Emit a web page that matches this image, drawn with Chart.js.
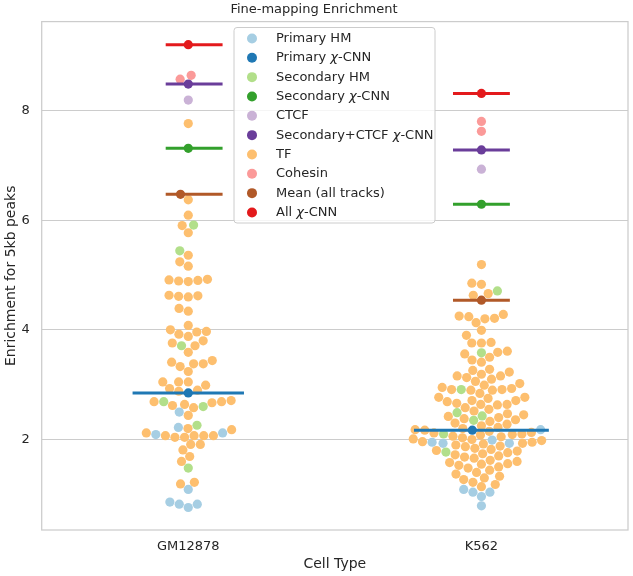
<!DOCTYPE html>
<html>
<head>
<meta charset="utf-8">
<script src="https://cdn.jsdelivr.net/npm/chart.js@4.4.1/dist/chart.umd.min.js"></script>
<style>
    html, body { margin: 0; padding: 0; background: #ffffff; }
</style>
</head>
<body>
<canvas id="chart" width="633" height="576"></canvas>
<script>
// categories and ticks
var cellTypes = ['GM12878', 'K562'];
var yTicks = [2, 4, 6, 8];

// legend entries (track groups)
var seriesNames = ['Primary HM', 'Primary χ-CNN', 'Secondary HM', 'Secondary χ-CNN', 'CTCF',
    'Secondary+CTCF χ-CNN', 'TF', 'Cohesin', 'Mean (all tracks)', 'All χ-CNN'];

// values per track group: [GM12878, K562]
var primaryHM = [[2.50, 2.22, 2.12, 2.09, 1.09, 0.86, 0.82, 0.82, 0.76],
    [2.18, 1.99, 1.95, 1.93, 1.93, 1.09, 1.04, 1.04, 0.96, 0.79]];
var primaryCNN = [[2.85], [2.17]];
var secondaryHM = [[5.91, 5.44, 3.71, 2.69, 2.60, 2.26, 1.48],
    [4.71, 3.58, 2.91, 2.49, 2.43, 2.35, 2.10, 1.77]];
var secondaryCNN = [[7.31], [6.29]];
var ctcf = [[8.19], [6.93]];
var secondaryCtcfCNN = [[8.48], [7.28]];
var tf = [
    [7.76, 6.37, 6.09, 5.90, 5.77, 5.36, 5.24, 5.16, 4.92, 4.90, 4.88, 4.89, 4.91, 4.63, 4.61, 4.62, 4.60,
        4.39, 4.34, 4.08, 4.00, 3.97, 3.96, 3.92, 3.88, 3.80, 3.76, 3.71, 3.59, 3.44, 3.41, 3.38, 3.38, 3.33,
        3.24, 3.05, 3.05, 3.05, 2.99, 2.93, 2.90, 2.88, 2.71, 2.69, 2.67, 2.62, 2.58, 2.64, 2.69, 2.44, 2.20,
        2.18, 2.12, 2.07, 2.07, 2.07, 2.07, 2.04, 2.04, 1.91, 1.91, 1.81, 1.69, 1.60, 1.22, 1.19],
    [5.19, 4.85, 4.83, 4.66, 4.63, 4.28, 4.25, 4.24, 4.21, 4.20, 4.13, 3.99, 3.90, 3.77, 3.76, 3.76, 3.61,
        3.59, 3.56, 3.50, 3.45, 3.41, 3.28, 3.26, 3.23, 3.19, 3.16, 3.16, 3.13, 3.10, 3.06, 3.02, 2.99, 2.95,
        2.93, 2.91, 2.90, 2.90, 2.91, 2.84, 2.77, 2.77, 2.75, 2.71, 2.71, 2.69, 2.66, 2.64, 2.64, 2.63, 2.58,
        2.55, 2.52, 2.47, 2.45, 2.42, 2.40, 2.38, 2.36, 2.33, 2.30, 2.28, 2.25, 2.22, 2.20, 2.18, 2.17, 2.15,
        2.13, 2.12, 2.10, 2.09, 2.08, 2.06, 2.05, 2.03, 2.01, 2.00, 1.98, 1.96, 1.95, 1.93, 1.92, 1.90, 1.88,
        1.87, 1.84, 1.82, 1.80, 1.79, 1.76, 1.74, 1.72, 1.70, 1.68, 1.66, 1.62, 1.60, 1.58, 1.56, 1.55, 1.53,
        1.50, 1.48, 1.44, 1.40, 1.37, 1.33, 1.30, 1.27, 1.22, 1.18, 1.14]];
var cohesin = [[8.64, 8.57], [7.80, 7.62]];
var meanAll = [[6.47], [4.54]];
var allCNN = [[9.20], [8.31]];

var seriesValues = [primaryHM, primaryCNN, secondaryHM, secondaryCNN, ctcf,
    secondaryCtcfCNN, tf, cohesin, meanAll, allCNN];

// styles
var seriesColors = ['#a6cee3', '#1f78b4', '#b2df8a', '#33a02c', '#cab2d6',
    '#6a3d9a', '#fdbf6f', '#fb9a99', '#b15928', '#e31a1c'];
var linedSeries = [1, 3, 5, 8, 9];          // groups that also get a horizontal bar
var lineHalfWidth = { 1: [0.19, 0.23] };    // wider bar for primary chi-CNN
var shortHalfWidth = 0.097;
var shortShift = [0.02, 0];
var dotRadius = 4.6;
var textColor = '#262626';
var gridColor = '#cccccc';
var fontFamily = '"DejaVu Sans", sans-serif';

var datasets = [];

seriesNames.forEach(function (name, s) {
    var pts = [];
    seriesValues[s].forEach(function (vals, c) {
        vals.forEach(function (v) {
            pts.push({ x: c, y: v, cell: c });
        });
    });
    datasets.push({
        label: name,
        data: pts,
        backgroundColor: seriesColors[s],
        borderWidth: 0,
        pointRadius: dotRadius,
        pointHoverRadius: dotRadius,
        order: linedSeries.indexOf(s) >= 0 ? 0 : 2,
        isSwarm: true
    });
});

linedSeries.forEach(function (s) {
    seriesValues[s].forEach(function (vals, c) {
        var hw = lineHalfWidth[s] ? lineHalfWidth[s][c] : shortHalfWidth;
        var mid = c + (lineHalfWidth[s] ? 0 : shortShift[c]);
        datasets.push({
            label: seriesNames[s] + ' bar',
            data: [{ x: mid - hw, y: vals[0] }, { x: mid + hw, y: vals[0] }],
            borderColor: seriesColors[s],
            borderWidth: 3,
            pointRadius: 0,
            showLine: true,
            fill: false,
            order: 1,
            isSwarm: false
        });
    });
});

// swarm layout (ascending by value, nearest free spot to the centre)
function layoutSwarm(chart) {
    var xs = chart.scales.x;
    var ys = chart.scales.y;
    var pxPerUnit = xs.getPixelForValue(1) - xs.getPixelForValue(0);
    cellTypes.forEach(function (name, c) {
        var pts = [];
        chart.data.datasets.forEach(function (ds) {
            if (!ds.isSwarm) return;
            ds.data.forEach(function (p) {
                if (p.cell === c) pts.push({ p: p, py: ys.getPixelForValue(p.y) });
            });
        });
        pts.sort(function (a, b) { return b.py - a.py; });
        var placed = [];
        var d = 2 * dotRadius;
        pts.forEach(function (q) {
            var near = placed.filter(function (o) { return Math.abs(o.py - q.py) < d; });
            var cands = [0];
            near.forEach(function (o) {
                var dy = q.py - o.py;
                var dx = Math.sqrt(Math.max(d * d - dy * dy, 0)) * 1.05;
                cands.push(o.dx - dx, o.dx + dx);
            });
            cands = cands.map(function (v, i) { return { v: v, i: i }; })
                .sort(function (a, b) { return Math.abs(a.v) - Math.abs(b.v) || a.i - b.i; });
            var chosen = 0;
            for (var k = 0; k < cands.length; k++) {
                var cx = cands[k].v;
                var ok = near.every(function (o) {
                    return (cx - o.dx) * (cx - o.dx) + (q.py - o.py) * (q.py - o.py) >= d * d - 0.01;
                });
                if (ok) { chosen = cx; break; }
            }
            q.dx = chosen;
            placed.push(q);
            q.p.x = c + chosen / pxPerUnit;
        });
    });
}

var framePlugin = {
    id: 'frame',
    beforeDatasetsDraw: function (chart) {
        var a = chart.chartArea;
        var ctx = chart.ctx;
        ctx.save();
        ctx.strokeStyle = gridColor;
        ctx.lineWidth = 1.25;
        ctx.strokeRect(a.left, a.top, a.right - a.left, a.bottom - a.top);
        ctx.restore();
    }
};

function drawLabel(ctx, text, x, y) {
    var parts = text.split('χ');
    var cx = x;
    parts.forEach(function (part, i) {
        if (i > 0) {
            ctx.font = 'italic 13px ' + fontFamily;
            ctx.fillText('χ', cx, y);
            cx += ctx.measureText('χ').width;
        }
        ctx.font = '13px ' + fontFamily;
        ctx.fillText(part, cx, y);
        cx += ctx.measureText(part).width;
    });
}

var legendPlugin = {
    id: 'boxLegend',
    afterDraw: function (chart) {
        var ctx = chart.ctx;
        var left = 234, top = 27.5, width = 201, height = 195.5;
        var rowTop = 38.5, rowStep = 19.33;
        ctx.save();
        ctx.fillStyle = 'rgba(255,255,255,0.8)';
        ctx.strokeStyle = gridColor;
        ctx.lineWidth = 1;
        ctx.beginPath();
        ctx.roundRect(left, top, width, height, 3);
        ctx.fill();
        ctx.stroke();
        ctx.textBaseline = 'middle';
        seriesNames.forEach(function (name, i) {
            var y = rowTop + i * rowStep;
            ctx.fillStyle = seriesColors[i];
            ctx.beginPath();
            ctx.arc(252, y, 5, 0, Math.PI * 2);
            ctx.fill();
            ctx.fillStyle = textColor;
            drawLabel(ctx, name, 276, y);
        });
        ctx.restore();
    }
};

var ctx = document.getElementById('chart').getContext('2d');
var chart = new Chart(ctx, {
    type: 'scatter',
    data: { datasets: datasets },
    options: {
        responsive: false,
        animation: false,
        layout: { padding: { left: 0, right: 5, top: 0, bottom: 0 } },
        plugins: {
            legend: { display: false },
            tooltip: { enabled: false },
            title: {
                display: true,
                text: 'Fine-mapping Enrichment',
                color: textColor,
                font: { family: fontFamily, size: 13, weight: 'normal' },
                padding: { top: 2, bottom: 4 }
            }
        },
        scales: {
            x: {
                type: 'linear',
                min: -0.5,
                max: 1.5,
                afterBuildTicks: function (scale) {
                    scale.ticks = cellTypes.map(function (n, i) { return { value: i }; });
                },
                afterFit: function (scale) { scale.height = 46; },
                ticks: {
                    color: textColor,
                    padding: 9,
                    font: { family: fontFamily, size: 13 },
                    callback: function (v) { return cellTypes[v]; }
                },
                grid: { display: false, drawTicks: false },
                border: { display: false },
                title: {
                    display: true,
                    text: 'Cell Type',
                    color: textColor,
                    font: { family: fontFamily, size: 14 },
                    padding: { top: 2, bottom: 3 }
                }
            },
            y: {
                min: 0.35,
                max: 9.62,
                afterBuildTicks: function (scale) {
                    scale.ticks = yTicks.map(function (v) { return { value: v }; });
                },
                afterFit: function (scale) { scale.width = 41.7; },
                ticks: {
                    color: textColor,
                    padding: 12,
                    font: { family: fontFamily, size: 13 }
                },
                grid: { color: gridColor, lineWidth: 1, drawTicks: false },
                border: { display: false },
                title: {
                    display: true,
                    text: 'Enrichment for 5kb peaks',
                    color: textColor,
                    font: { family: fontFamily, size: 14 },
                    padding: { top: 3, bottom: 4 }
                }
            }
        }
    },
    plugins: [framePlugin, legendPlugin]
});

layoutSwarm(chart);
chart.update('none');
</script>
</body>
</html>
